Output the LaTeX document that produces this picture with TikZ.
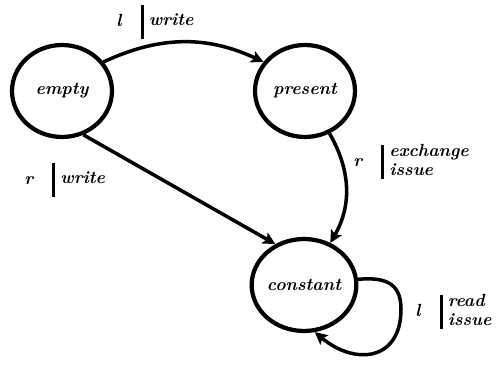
\documentclass[tikz,border=0pt]{standalone}
\usepackage{amsmath}
\usetikzlibrary{arrows.meta,shapes.geometric}

% input | output label, the bar runs through all output lines
\newcommand{\trans}[2]{#1\hspace{11pt}\raisebox{-7pt}{\rule{1.5pt}{19pt}}\hspace{3pt}{\renewcommand{\arraystretch}{0.9}\begin{tabular}{@{}l@{}}#2\end{tabular}}}

\begin{document}
\begin{tikzpicture}[x=0.02cm, y=0.02cm, font=\bfseries\itshape,
  state/.style={draw, ellipse, line width=2.4pt, minimum width=2cm, minimum height=1.84cm, inner sep=0pt},
  move/.style={line width=2pt, -{Stealth[length=7pt,width=7pt,inset=1.5pt]}},
  lab/.style={anchor=west, inner sep=0pt}]
  \useasboundingbox (0,0) rectangle (501,367);

  \foreach \s/\x/\y in {empty/62/276, present/305/276, constant/304/82}{
    \node[state] at (\x,\y) (\s) {\s};
  }
  \coordinate (turn) at (401,58); % right end of the self loop

  \draw[move] (empty.35) to[out=25,in=155] (present.145);
  \draw[move] (empty.-64) -- (constant.125);
  \draw[move] (present.-60) to[out=-60,in=60] (constant.58);
  \draw[move] (constant.6) to[out=5,in=90,looseness=1.3] (turn)
    to[out=-90,in=-40,looseness=1.5] (constant.-77);

  \node[lab] at (116,345) (lwrite) {\trans{l}{write}};
  \node[lab] at (24,187) (rwrite) {\trans{r}{write}};
  \node[lab] at (353,205) (rexch) {\trans{r}{exchange\\issue}};
  \node[lab] at (415,55) (lread) {\trans{l}{read\\issue}};
\end{tikzpicture}
\end{document}
